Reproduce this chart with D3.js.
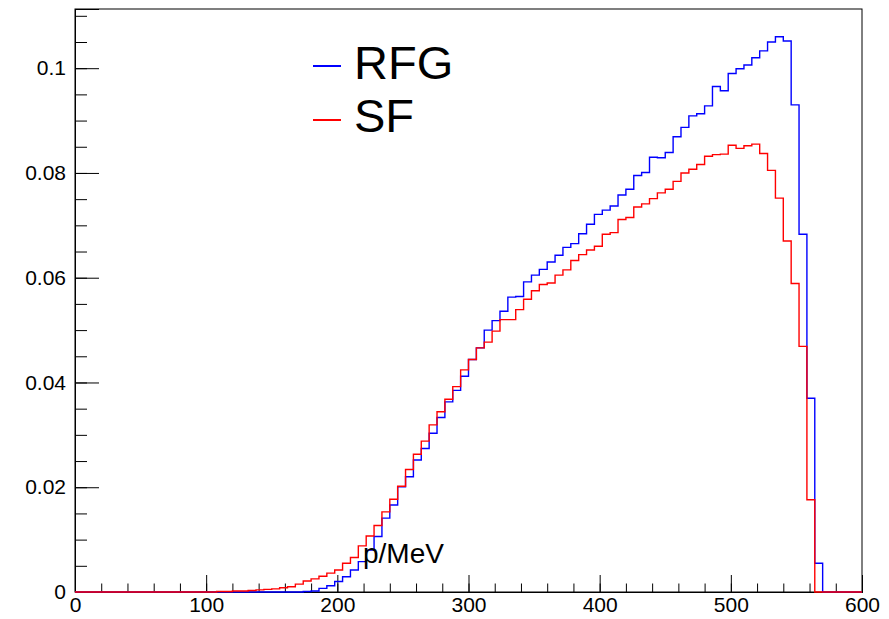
<!DOCTYPE html>
<html>
<head>
<meta charset="UTF-8">
<title>RFG vs SF momentum</title>
<script src="https://d3js.org/d3.v7.min.js"></script>
<style>
    body {
        margin: 0;
        background: #fff;
    }
    text {
        font-family: "Liberation Sans", Arial, Helvetica, sans-serif;
    }
</style>
</head>
<body>
<script>
    // 100 bins of 6 MeV from 0 to 600
    const pEdges = d3.range(0, 601, 6);

    // RFG histogram contents, one per bin
    const rfg = [
        0, 0, 0, 0, 0, 0, 0, 0, 0, 0,
        0, 0, 0, 0, 0, 0, 0, 0, 0, 0,
        0, 0, 0, 0, 0, 0, 0, 0, 0, 0.0001,
        0.0002, 0.0007, 0.0012, 0.0020, 0.0029, 0.0042, 0.0058, 0.0080, 0.0106, 0.0141,
        0.0166, 0.0201, 0.0220, 0.0252, 0.0274, 0.0303, 0.0333, 0.0363, 0.0385, 0.0412,
        0.0444, 0.0466, 0.0500, 0.0518, 0.0536, 0.0563, 0.0564, 0.0592, 0.0605, 0.0616,
        0.0630, 0.0643, 0.0658, 0.0665, 0.0684, 0.0702, 0.0721, 0.0729, 0.0737, 0.0758,
        0.0769, 0.0795, 0.0801, 0.0830, 0.0829, 0.0839, 0.0869, 0.0887, 0.0909, 0.0913,
        0.0928, 0.0965, 0.0957, 0.0990, 0.0999, 0.1006, 0.1020, 0.1033, 0.1050, 0.1060,
        0.1052, 0.0930, 0.0683, 0.0370, 0.0055, 0, 0, 0, 0, 0
    ];

    // SF histogram contents
    const sf = [
        0, 0, 0, 0, 0, 0, 0, 0, 0, 0,
        0, 0, 0, 0, 0, 0, 0, 0, 0.0001, 0.0001,
        0.0002, 0.0002, 0.0003, 0.0004, 0.0005, 0.0006, 0.0008, 0.0010, 0.0015, 0.0021,
        0.0025, 0.0030, 0.0036, 0.0042, 0.0055, 0.0066, 0.0088, 0.0107, 0.0127, 0.0153,
        0.0177, 0.0202, 0.0234, 0.0263, 0.0288, 0.0319, 0.0344, 0.0368, 0.0392, 0.0424,
        0.0444, 0.0466, 0.0477, 0.0498, 0.0520, 0.0520, 0.0539, 0.0559, 0.0575, 0.0587,
        0.0590, 0.0605, 0.0615, 0.0633, 0.0644, 0.0653, 0.0660, 0.0683, 0.0686, 0.0711,
        0.0715, 0.0735, 0.0741, 0.0751, 0.0762, 0.0769, 0.0784, 0.0800, 0.0807, 0.0816,
        0.0832, 0.0835, 0.0836, 0.0853, 0.0847, 0.0852, 0.0855, 0.0837, 0.0805, 0.0752,
        0.0670, 0.0589, 0.0469, 0.0176, 0, 0, 0, 0, 0, 0
    ];

    const series = [
        { name: "RFG", values: rfg, color: "#0000ff" },
        { name: "SF", values: sf, color: "#ff0000" }
    ];

    const xMajor = [0, 100, 200, 300, 400, 500, 600];
    const xMinor = d3.range(0, 601, 20);
    const yMajor = [0, 0.02, 0.04, 0.06, 0.08, 0.1];
    const yMinor = d3.range(0, 0.1101, 0.005);
    const xTitle = "p/MeV";

    const width = 889, height = 619;
    const x = d3.scaleLinear().domain([0, 600]).range([75, 862]);
    const y = d3.scaleLinear().domain([0, 0.1113]).range([592, 9]);

    const svg = d3.select("body").append("svg")
        .attr("width", width).attr("height", height);

    // frame
    svg.append("rect")
        .attr("x", x(0)).attr("y", y.range()[1])
        .attr("width", x(600) - x(0)).attr("height", y(0) - y.range()[1])
        .attr("fill", "none").attr("stroke", "#000").attr("stroke-width", 1);

    // y axis, ticks inward
    const gy = svg.append("g").attr("transform", `translate(${x(0)},0)`);
    gy.call(d3.axisLeft(y).tickValues(yMinor).tickSize(-12).tickFormat(""));
    gy.append("g").call(d3.axisLeft(y).tickValues(yMajor).tickSize(-24).tickPadding(9)
        .tickFormat(d3.format("~g")));
    gy.selectAll("path.domain").attr("stroke", "#000");
    gy.selectAll("line").attr("stroke", "#000");
    gy.selectAll("text").attr("font-size", 21).attr("fill", "#000")
        .attr("font-family", "Liberation Sans, Arial, sans-serif");

    // x axis
    const gx = svg.append("g").attr("transform", `translate(0,${y(0)})`);
    gx.call(d3.axisBottom(x).tickValues(xMinor).tickSize(-8.5).tickFormat(""));
    gx.append("g").call(d3.axisBottom(x).tickValues(xMajor).tickSize(-17).tickPadding(5)
        .tickFormat(d3.format("d")));
    gx.selectAll("path.domain").attr("stroke", "#000");
    gx.selectAll("line").attr("stroke", "#000");
    gx.selectAll("text").attr("font-size", 21).attr("fill", "#000")
        .attr("font-family", "Liberation Sans, Arial, sans-serif");

    // histograms as step outlines
    const line = d3.line().x(d => x(d[0])).y(d => y(d[1]));
    series.forEach(s => {
        const pts = [[pEdges[0], 0]];
        s.values.forEach((v, i) => {
            pts.push([pEdges[i], v]);
            pts.push([pEdges[i + 1], v]);
        });
        pts.push([pEdges[pEdges.length - 1], 0]);
        svg.append("path")
            .attr("d", line(pts))
            .attr("fill", "none")
            .attr("stroke", s.color)
            .attr("stroke-width", 1.4);
    });

    // axis title placed inside the frame
    svg.append("text")
        .attr("x", 363).attr("y", 563)
        .attr("font-size", 28)
        .text(xTitle);

    // legend
    const legend = svg.append("g");
    series.forEach((s, i) => {
        const ly = 66 + i * 54;
        legend.append("line")
            .attr("x1", 313).attr("x2", 341)
            .attr("y1", ly).attr("y2", ly)
            .attr("stroke", s.color).attr("stroke-width", 2);
        legend.append("text")
            .attr("x", 354).attr("y", 79 + i * 53)
            .attr("font-size", 47)
            .text(s.name);
    });
</script>
</body>
</html>
